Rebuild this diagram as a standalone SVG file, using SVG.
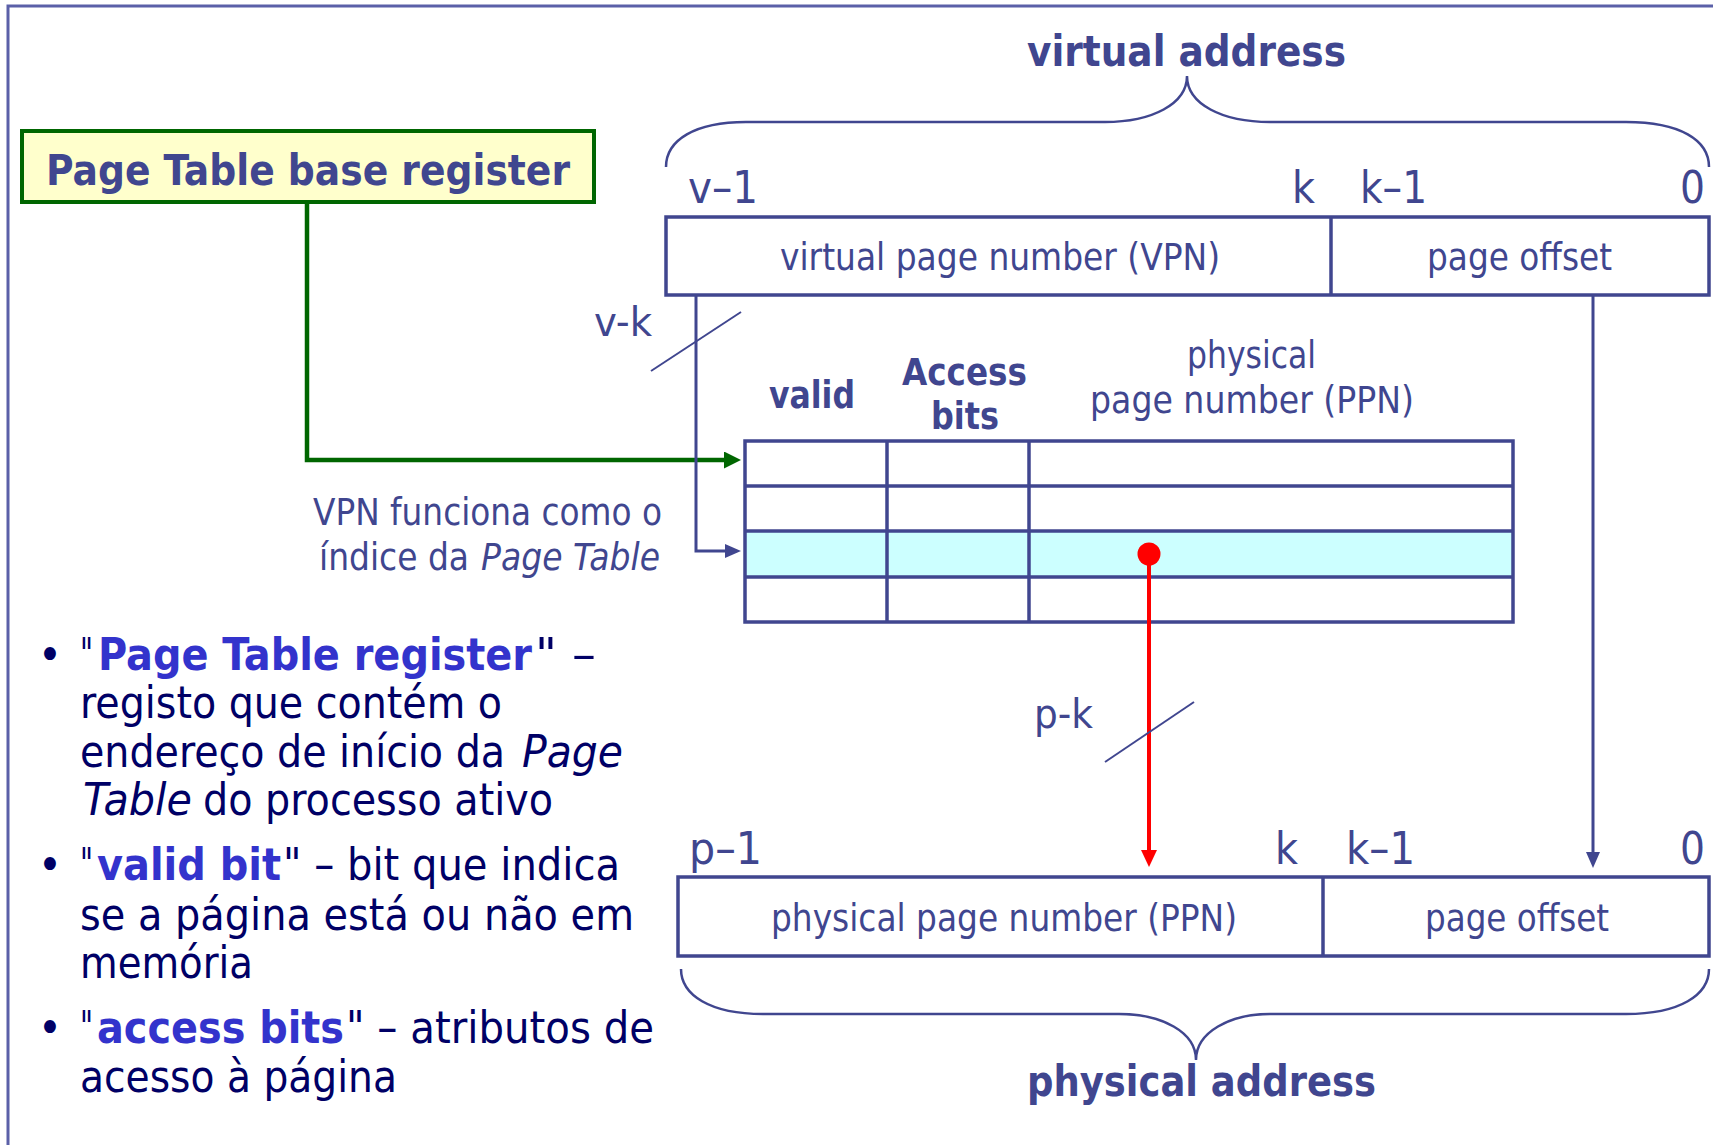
<svg xmlns="http://www.w3.org/2000/svg" width="1713" height="1145" viewBox="0 0 1713 1145">
<style>
text { font-family: "DejaVu Sans Condensed", "DejaVu Sans", "Liberation Sans", sans-serif; }
.d { fill: #40468f; }
.n { fill: #000066; }
.hl { fill: #3333cc; font-weight: bold; }
.b { font-weight: bold; }
.i { font-style: italic; }
.ln { stroke: #40468f; fill: none; }
.box { fill: #ffffff; stroke: #40468f; stroke-width: 3.5; }
.grid { stroke: #40468f; stroke-width: 3.5; fill: none; }
</style>
<defs>
<marker id="ah-green" markerUnits="userSpaceOnUse" markerWidth="18" markerHeight="18" refX="0" refY="8.5" orient="auto">
<path d="M0,0 L17,8.5 L0,17 z" fill="#006600"/>
</marker>
<marker id="ah-blue" markerUnits="userSpaceOnUse" markerWidth="17" markerHeight="15" refX="0" refY="7" orient="auto">
<path d="M0,0 L16,7 L0,14 z" fill="#40468f"/>
</marker>
<marker id="ah-red" markerUnits="userSpaceOnUse" markerWidth="18" markerHeight="18" refX="0" refY="8" orient="auto">
<path d="M0,0 L17,8 L0,16 z" fill="#ff0000"/>
</marker>
</defs>
<rect x="8" y="6" width="1730" height="1170" fill="#ffffff" stroke="#5b60a8" stroke-width="3"/>

<g id="node-ptbr">
<rect x="22" y="131" width="572" height="71" fill="#ffffcc" stroke="#006600" stroke-width="4"/>
<text class="d b" x="46" y="185" font-size="43" textLength="524" lengthAdjust="spacingAndGlyphs">Page Table base register</text>
</g>

<g id="node-va-label">
<path class="ln" stroke-width="2.5" d="M666,167 C666,140 695,122 746,122 L1105,122 C1152,122 1187,104 1187,76 C1187,104 1222,122 1270,122 L1626,122 C1680,122 1709,140 1709,167"/>
<text class="d b" x="1027" y="66" font-size="43" textLength="319" lengthAdjust="spacingAndGlyphs">virtual address</text>
</g>

<g id="node-va-box">
<rect class="box" x="666" y="217" width="1043" height="78"/>
<line class="ln" stroke-width="3.5" x1="1331" y1="217" x2="1331" y2="295"/>
<text class="d" x="780" y="270" font-size="37" textLength="440" lengthAdjust="spacingAndGlyphs">virtual page number (VPN)</text>
<text class="d" x="1427" y="270" font-size="37" textLength="185" lengthAdjust="spacingAndGlyphs">page offset</text>
<text class="d" x="688" y="203" font-size="44" textLength="70" lengthAdjust="spacingAndGlyphs">v–1</text>
<text class="d" x="1292" y="203" font-size="44" textLength="23" lengthAdjust="spacingAndGlyphs">k</text>
<text class="d" x="1360" y="203" font-size="44" textLength="67" lengthAdjust="spacingAndGlyphs">k–1</text>
<text class="d" x="1680" y="203" font-size="44" textLength="25" lengthAdjust="spacingAndGlyphs">0</text>
</g>

<g id="node-page-table">
<rect x="745" y="531" width="768" height="46" fill="#ccffff"/>
<rect class="grid" x="745" y="441" width="768" height="181"/>
<line class="grid" x1="745" y1="486" x2="1513" y2="486"/>
<line class="grid" x1="745" y1="531" x2="1513" y2="531"/>
<line class="grid" x1="745" y1="577" x2="1513" y2="577"/>
<line class="grid" x1="887" y1="441" x2="887" y2="622"/>
<line class="grid" x1="1029" y1="441" x2="1029" y2="622"/>
<text class="d b" x="769" y="408" font-size="37" textLength="86" lengthAdjust="spacingAndGlyphs">valid</text>
<text class="d b" x="902" y="385" font-size="37" textLength="125" lengthAdjust="spacingAndGlyphs">Access</text>
<text class="d b" x="931" y="429" font-size="37" textLength="68" lengthAdjust="spacingAndGlyphs">bits</text>
<text class="d" x="1187" y="368" font-size="37" textLength="129" lengthAdjust="spacingAndGlyphs">physical</text>
<text class="d" x="1090" y="413" font-size="37" textLength="324" lengthAdjust="spacingAndGlyphs">page number (PPN)</text>
<circle cx="1149" cy="554" r="11.5" fill="#ff0000"/>
</g>

<g id="node-pa-box">
<rect class="box" x="678" y="877" width="1031" height="79"/>
<line class="ln" stroke-width="3.5" x1="1323" y1="877" x2="1323" y2="956"/>
<text class="d" x="771" y="931" font-size="37" textLength="466" lengthAdjust="spacingAndGlyphs">physical page number (PPN)</text>
<text class="d" x="1425" y="931" font-size="37" textLength="184" lengthAdjust="spacingAndGlyphs">page offset</text>
<text class="d" x="689" y="864" font-size="44" textLength="73" lengthAdjust="spacingAndGlyphs">p–1</text>
<text class="d" x="1275" y="864" font-size="44" textLength="23" lengthAdjust="spacingAndGlyphs">k</text>
<text class="d" x="1346" y="864" font-size="44" textLength="69" lengthAdjust="spacingAndGlyphs">k–1</text>
<text class="d" x="1680" y="864" font-size="44" textLength="25" lengthAdjust="spacingAndGlyphs">0</text>
</g>

<g id="node-pa-label">
<path class="ln" stroke-width="2.5" d="M681,969 C681,995 710,1014 763,1014 L1119,1014 C1162,1014 1196,1032 1196,1060 C1196,1032 1230,1014 1270,1014 L1626,1014 C1680,1014 1709,995 1709,969"/>
<text class="d b" x="1027" y="1096" font-size="43" textLength="349" lengthAdjust="spacingAndGlyphs">physical address</text>
</g>

<g id="connectors">
<path d="M307,202 L307,460 L724,460" fill="none" stroke="#006600" stroke-width="4.5" marker-end="url(#ah-green)"/>
<path class="ln" stroke-width="3" d="M696,295 L696,551 L725,551" marker-end="url(#ah-blue)"/>
<line class="ln" stroke-width="2" x1="651" y1="371" x2="741" y2="312"/>
<text class="d" x="594" y="336" font-size="40" textLength="58" lengthAdjust="spacingAndGlyphs">v-k</text>
<line x1="1149" y1="554" x2="1149" y2="850" stroke="#ff0000" stroke-width="4" marker-end="url(#ah-red)"/>
<line class="ln" stroke-width="2" x1="1105" y1="762" x2="1194" y2="702"/>
<text class="d" x="1034" y="728" font-size="40" textLength="59" lengthAdjust="spacingAndGlyphs">p-k</text>
<path class="ln" stroke-width="3" d="M1593,295 L1593,852" marker-end="url(#ah-blue)"/>
</g>

<g id="note-vpn-index">
<text class="d" x="313" y="525" font-size="37" textLength="349" lengthAdjust="spacingAndGlyphs">VPN funciona como o</text>
<text class="d" x="319" y="570" font-size="37" textLength="150" lengthAdjust="spacingAndGlyphs">índice da</text>
<text class="d i" x="481" y="570" font-size="37" textLength="179" lengthAdjust="spacingAndGlyphs">Page Table</text>
</g>

<g id="bullets" font-size="45">
<text class="n" x="38" y="670">•</text>
<text class="n" x="80" y="670" textLength="13" lengthAdjust="spacingAndGlyphs">"</text>
<text class="hl" x="98" y="670" textLength="434" lengthAdjust="spacingAndGlyphs">Page Table register</text>
<text class="n" x="535" y="670" textLength="61" lengthAdjust="spacingAndGlyphs">" –</text>
<text class="n" x="80" y="718" textLength="422" lengthAdjust="spacingAndGlyphs">registo que contém o</text>
<text class="n" x="80" y="767" textLength="425" lengthAdjust="spacingAndGlyphs">endereço de início da</text>
<text class="n i" x="522" y="767" textLength="101" lengthAdjust="spacingAndGlyphs">Page</text>
<text class="n i" x="83" y="815" textLength="109" lengthAdjust="spacingAndGlyphs">Table</text>
<text class="n" x="203" y="815" textLength="350" lengthAdjust="spacingAndGlyphs">do processo ativo</text>

<text class="n" x="38" y="880">•</text>
<text class="n" x="80" y="880" textLength="13" lengthAdjust="spacingAndGlyphs">"</text>
<text class="hl" x="97" y="880" textLength="184" lengthAdjust="spacingAndGlyphs">valid bit</text>
<text class="n" x="283" y="880" textLength="337" lengthAdjust="spacingAndGlyphs">" – bit que indica</text>
<text class="n" x="80" y="930" textLength="554" lengthAdjust="spacingAndGlyphs">se a página está ou não em</text>
<text class="n" x="80" y="978" textLength="173" lengthAdjust="spacingAndGlyphs">memória</text>

<text class="n" x="38" y="1043">•</text>
<text class="n" x="80" y="1043" textLength="13" lengthAdjust="spacingAndGlyphs">"</text>
<text class="hl" x="97" y="1043" textLength="247" lengthAdjust="spacingAndGlyphs">access bits</text>
<text class="n" x="346" y="1043" textLength="308" lengthAdjust="spacingAndGlyphs">" – atributos de</text>
<text class="n" x="80" y="1092" textLength="317" lengthAdjust="spacingAndGlyphs">acesso à página</text>
</g>
</svg>
